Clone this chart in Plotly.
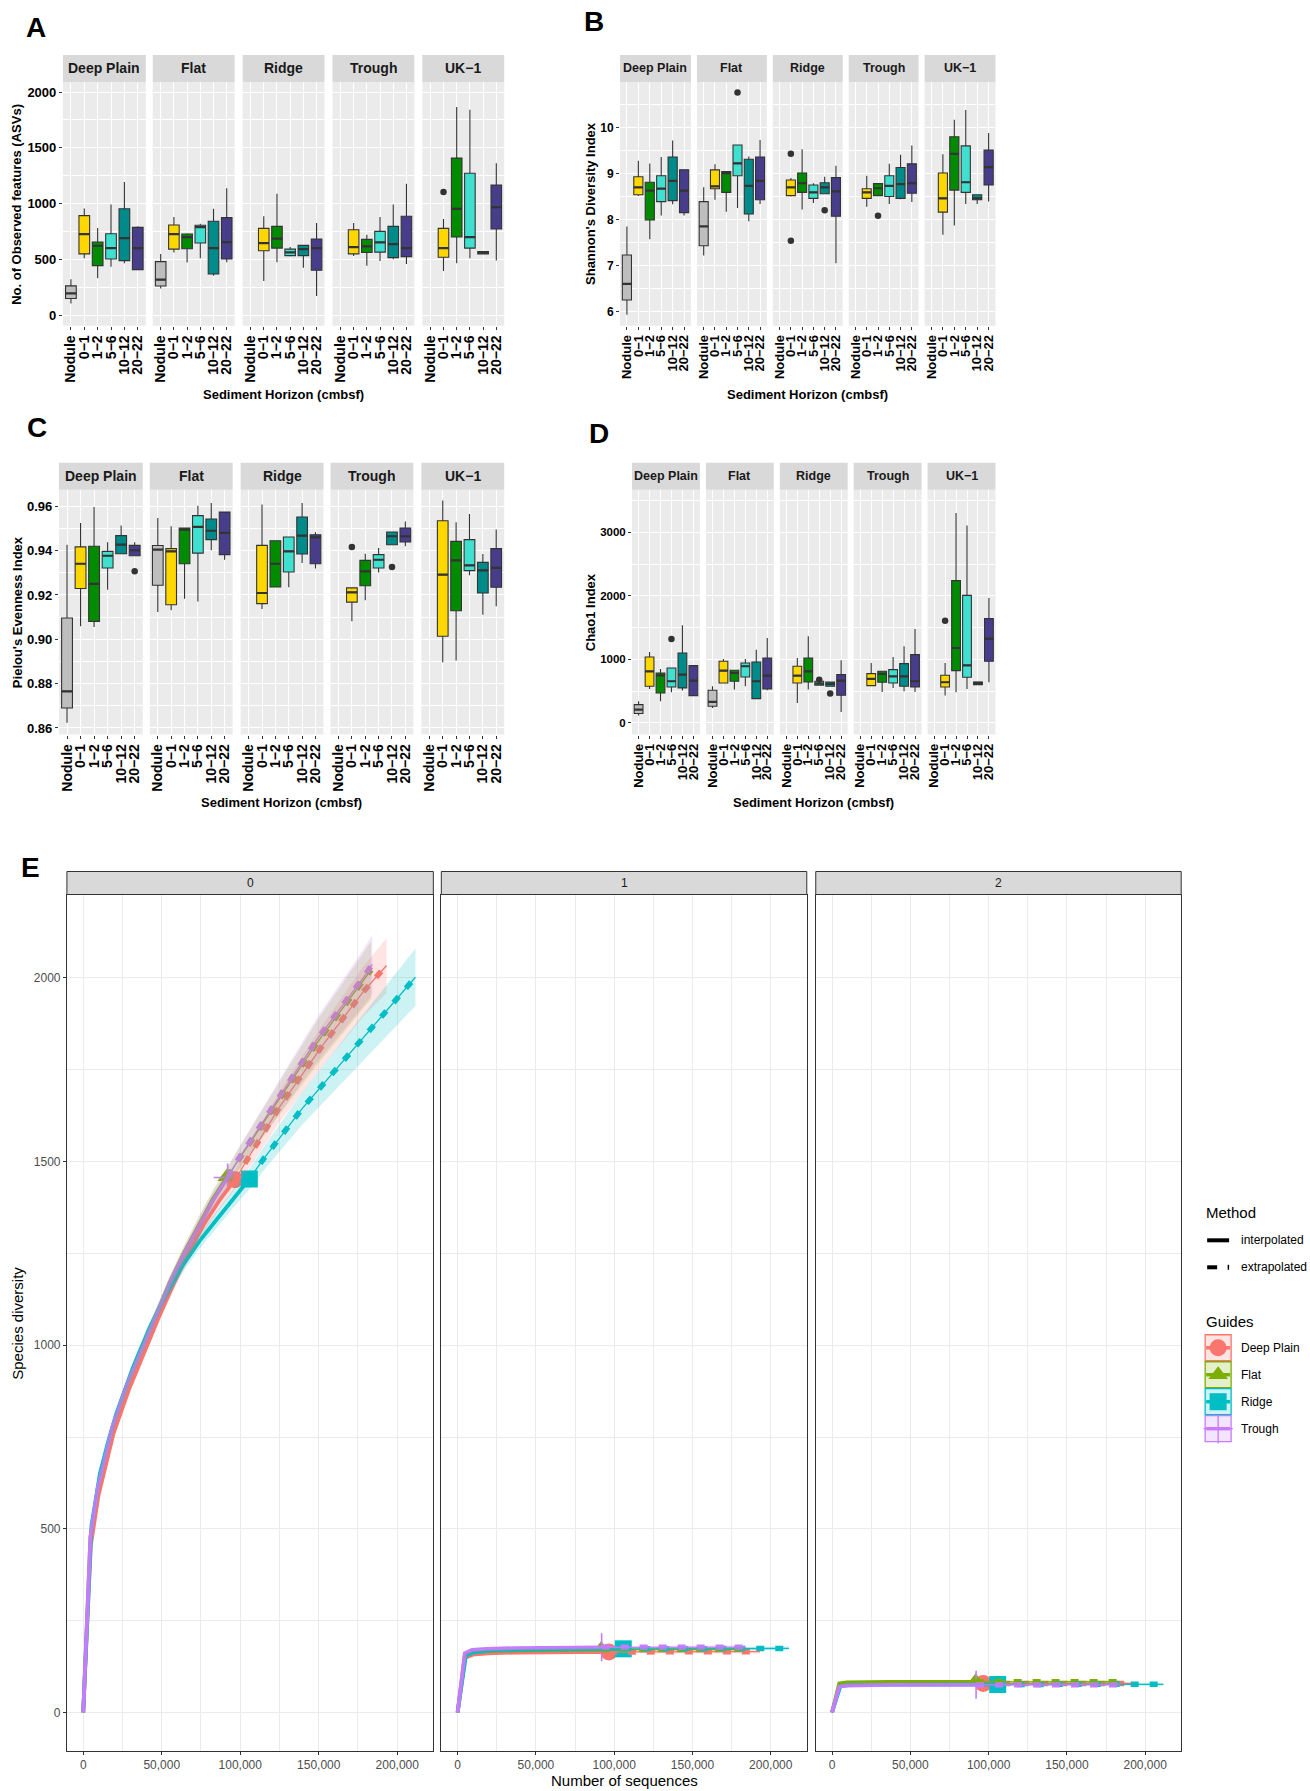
import plotly.graph_objects as go

W, H = 1310, 1791
FONT = "Liberation Sans, Arial, Helvetica, sans-serif"
M = "\u2212"

# ---------------- data: boxplots (A-D) ----------------
SITES = ["Deep Plain", "Flat", "Ridge", "Trough", "UK" + M + "1"]
HORIZONS = ["Nodule", "0" + M + "1", "1" + M + "2", "5" + M + "6", "10" + M + "12", "20" + M + "22"]
BOX_COLORS = ["#BEBEBE", "#FFD700", "#008B00", "#40E0D0", "#008B8B", "#483D8B"]

# Observed features (ASVs)
A_lo = [[105, 511, 331, 436, 466, 405], [240, 563, 472, 511, 355, 475], [None, 307, 475, 526, 427, 174], [None, 532, 445, 487, 502, 460], [None, 397, 466, 511, 550, 490]]
A_q1 = [[150, 550, 445, 505, 490, 409], [262, 593, 596, 647, 370, 505], [None, 578, 602, 535, 535, 403], [None, 550, 563, 566, 517, 526], [None, 520, 701, 602, 550, 773]]
A_med = [[196, 728, 623, 602, 692, 602], [320, 728, 701, 790, 602, 656], [None, 647, 686, 563, 593, 602], [None, 611, 617, 653, 638, 602], [None, 602, 954, 701, 563, 968]]
A_q3 = [[264, 893, 656, 731, 954, 788], [481, 809, 728, 806, 842, 875], [None, 779, 797, 593, 626, 683], [None, 767, 680, 752, 797, 887], [None, 779, 1408, 1272, 571, 1167]]
A_hi = [[322, 957, 782, 993, 1194, 797], [550, 881, 735, 821, 954, 1137], [None, 887, 1089, 611, 626, 827], [None, 827, 722, 881, 993, 1179], [None, 863, 1865, 1841, 571, 1363]]
A_out = [(4, 1, 1104)]

# Shannon
B_lo = [[5.93, 8.51, 7.57, 8.09, 8.33, 8.09], [7.22, 8.43, 8.17, 8.25, 7.96, 8.34], [None, 8.50, 8.22, 8.36, 8.56, 7.05], [None, 8.28, 8.52, 8.34, 8.44, 8.38], [None, 7.67, 7.87, 8.34, 8.34, 8.39]]
B_q1 = [[6.25, 8.54, 7.99, 8.39, 8.41, 8.15], [7.43, 8.67, 8.59, 8.95, 8.12, 8.43], [None, 8.52, 8.59, 8.46, 8.56, 8.07], [None, 8.46, 8.52, 8.50, 8.46, 8.57], [None, 8.16, 8.64, 8.59, 8.43, 8.75]]
B_med = [[6.60, 8.70, 8.63, 8.67, 8.84, 8.63], [7.85, 8.72, 9.01, 9.22, 8.73, 8.84], [None, 8.70, 8.79, 8.59, 8.70, 8.61], [None, 8.59, 8.68, 8.73, 8.77, 8.79], [None, 8.46, 9.43, 8.81, 8.46, 9.14]]
B_q3 = [[7.23, 8.93, 8.81, 8.95, 9.36, 9.08], [8.39, 9.08, 9.04, 9.62, 9.31, 9.36], [None, 8.86, 9.01, 8.75, 8.80, 8.91], [None, 8.67, 8.78, 8.95, 9.13, 9.21], [None, 9.01, 9.80, 9.60, 8.54, 9.51]]
B_hi = [[7.85, 9.28, 9.22, 9.36, 9.72, 9.08], [8.70, 9.20, 9.04, 9.62, 9.37, 9.73], [None, 8.90, 9.53, 8.79, 8.93, 9.17], [None, 8.95, 8.78, 9.21, 9.41, 9.61], [None, 9.42, 10.17, 10.38, 8.54, 9.88]]
B_out = [(1, 3, 10.76), (2, 1, 9.43), (2, 1, 7.54), (2, 4, 8.20), (3, 2, 8.08)]

# Pielou
C_lo = [[0.8623, 0.9059, 0.9056, 0.9224, 0.9386, 0.9377], [0.9123, 0.9131, 0.9183, 0.9171, 0.9402, 0.9359], [None, 0.9137, 0.9236, 0.9235, 0.9344, 0.9319], [None, 0.9081, 0.9176, 0.9302, 0.9427, 0.9420], [None, 0.8896, 0.8904, 0.9289, 0.9111, 0.9149]]
C_q1 = [[0.8690, 0.9229, 0.9081, 0.9322, 0.9386, 0.9377], [0.9244, 0.9156, 0.9341, 0.9389, 0.9450, 0.9382], [None, 0.9161, 0.9236, 0.9304, 0.9385, 0.9341], [None, 0.9168, 0.9242, 0.9322, 0.9427, 0.9439], [None, 0.9014, 0.9129, 0.9310, 0.9209, 0.9235]]
C_med = [[0.8765, 0.9341, 0.9250, 0.9377, 0.9427, 0.9402], [0.9405, 0.9397, 0.9495, 0.9507, 0.9490, 0.9480], [None, 0.9209, 0.9341, 0.9397, 0.9468, 0.9460], [None, 0.9212, 0.9307, 0.9359, 0.9465, 0.9465], [None, 0.9292, 0.9356, 0.9334, 0.9311, 0.9322]]
C_q3 = [[0.9096, 0.9417, 0.9420, 0.9397, 0.9468, 0.9424], [0.9423, 0.9409, 0.9502, 0.9558, 0.9543, 0.9574], [None, 0.9424, 0.9445, 0.9462, 0.9552, 0.9472], [None, 0.9232, 0.9356, 0.9382, 0.9484, 0.9502], [None, 0.9535, 0.9442, 0.9450, 0.9347, 0.9409]]
C_hi = [[0.9427, 0.9525, 0.9597, 0.9438, 0.9514, 0.9438], [0.9547, 0.9510, 0.9502, 0.9603, 0.9615, 0.9576], [None, 0.9608, 0.9445, 0.9462, 0.9615, 0.9483], [None, 0.9232, 0.9386, 0.9412, 0.9484, 0.9532], [None, 0.9626, 0.9528, 0.9565, 0.9385, 0.9495]]
C_out = [(0, 5, 0.9307), (3, 1, 0.9417), (3, 4, 0.9326)]

# Chao1
D_lo = [[115, 535, 341, 483, 509, 430], [236, 619, 525, 577, 383, 514], [None, 315, 525, 593, 577, 173], [None, 577, 488, 551, 498, 488], [None, 430, 483, 535, 603, 640]]
D_q1 = [[147, 577, 472, 566, 551, 430], [262, 629, 656, 724, 383, 535], [None, 629, 645, 593, 577, 435], [None, 587, 640, 629, 577, 566], [None, 566, 823, 719, 603, 970]]
D_med = [[210, 813, 750, 656, 760, 666], [330, 823, 787, 892, 656, 745], [None, 745, 813, 619, 614, 666], [None, 692, 771, 734, 734, 656], [None, 640, 1180, 907, 629, 1322]]
D_q3 = [[288, 1039, 787, 865, 1101, 902], [514, 970, 829, 944, 960, 1023], [None, 892, 1023, 656, 645, 760], [None, 776, 813, 839, 934, 1075], [None, 750, 2240, 2009, 645, 1642]]
D_hi = [[341, 1117, 850, 865, 1537, 902], [577, 1007, 829, 1007, 1154, 1337], [None, 1023, 1364, 656, 645, 986], [None, 944, 813, 1039, 1206, 1479], [None, 944, 3304, 3110, 645, 1967]]
D_out = [(0, 3, 1322), (2, 3, 680), (2, 4, 462), (4, 1, 1610)]

# ---------------- data: rarefaction (E) ----------------
E_GROUPS = ["Deep Plain", "Flat", "Ridge", "Trough"]
E_COLORS = ["#F8766D", "#7CAE00", "#00BFC4", "#C77CFF"]
E_SYMBOLS = ["circle", "triangle-up", "square", "cross-thin"]
E_ORDERS = ["0", "1", "2"]
E_XTICKS = [0, 50000, 100000, 150000, 200000]
E_XTICKTEXT = ["0", "50,000", "100,000", "150,000", "200,000"]
E_YTICKS = [0, 500, 1000, 1500, 2000]

Q0_INT_X = [[1, 4830, 9660, 14490, 19320, 28980, 38640, 48300, 57960, 67620, 77280, 86940, 96600],
            [1, 4585, 9170, 13755, 18340, 27510, 36680, 45850, 55020, 64190, 73360, 82530, 91700],
            [1, 5290, 10580, 15870, 21160, 31740, 42320, 52900, 63480, 74060, 84640, 95220, 105800],
            [1, 4600, 9200, 13800, 18400, 27600, 36800, 46000, 55200, 64400, 73600, 82800, 92000]]
Q0_INT_Y = [[1, 455, 590, 680, 760, 878, 978, 1078, 1170, 1256, 1332, 1395, 1450],
            [1, 478, 608, 693, 773, 888, 984, 1079, 1170, 1251, 1327, 1398, 1458],
            [1, 510, 650, 738, 815, 940, 1048, 1140, 1218, 1283, 1340, 1397, 1452],
            [1, 480, 610, 695, 775, 890, 985, 1080, 1170, 1250, 1325, 1395, 1456]]
Q0_INT_HW = [[0, 6, 8, 9, 10, 12, 14, 16, 18, 20, 22, 24, 26],
             [0, 6, 8, 9, 10, 12, 14, 16, 18, 20, 22, 24, 26],
             [0, 7, 9, 10, 11, 13, 15, 17, 19, 21, 23, 25, 28],
             [0, 6, 8, 9, 10, 12, 14, 16, 18, 20, 22, 24, 26]]
Q0_EXT_X = [[96600, 125500, 152000, 178400, 193200],
            [91700, 120000, 148800, 178000, 183400],
            [105800, 114900, 139300, 162500, 188000, 211600],
            [92000, 99000, 120200, 148800, 178400, 184100]]
Q0_EXT_Y = [[1450, 1651, 1813, 1962, 2033],
            [1458, 1640, 1822, 1990, 2021],
            [1452, 1507, 1643, 1758, 1885, 2001],
            [1456, 1507, 1645, 1831, 2000, 2036]]
Q0_EXT_HW = [[26, 42, 56, 68, 75],
             [26, 42, 60, 75, 78],
             [28, 32, 44, 56, 68, 78],
             [26, 30, 42, 60, 77, 80]]

Q1_INT_X = [[1, 4830, 9660, 19320, 38640, 67620, 96600],
            [1, 4585, 9170, 18340, 36680, 64190, 91700],
            [1, 5290, 10580, 21160, 42320, 74060, 105800],
            [1, 4600, 9200, 18400, 36800, 64400, 92000]]
Q1_INT_Y = [[1, 150, 158, 162, 164, 165, 165.5],
            [1, 158, 165, 168, 170, 171, 172],
            [1, 155, 164, 169, 171, 173, 174],
            [1, 162, 171, 174, 176, 177, 178]]
Q1_INT_HW = [[0, 3, 3, 3, 3, 3, 3], [0, 3, 3, 3, 3, 3, 3], [0, 3, 3, 3, 3, 3, 3], [0, 3, 3, 3, 3, 3, 3]]
Q1_EXT_X = [[96600, 144900, 193200], [91700, 137550, 183400], [105800, 158700, 211600], [92000, 138000, 184000]]
Q1_EXT_Y = [[165.5, 166, 166.2], [172, 172.4, 172.6], [174, 174.6, 175], [178, 178.4, 178.6]]
Q1_EXT_HW = [[3, 4, 5], [3, 4, 5], [3, 4, 5], [3, 4, 5]]

Q2_INT_X = [[1, 4830, 9660, 19320, 38640, 67620, 96600],
            [1, 4585, 9170, 18340, 36680, 64190, 91700],
            [1, 5290, 10580, 21160, 42320, 74060, 105800],
            [1, 4600, 9200, 18400, 36800, 64400, 92000]]
Q2_INT_Y = [[1, 74, 77, 78.5, 79, 79.3, 79.5],
            [1, 80, 82.5, 83.5, 84, 84, 84.2],
            [1, 72, 75, 76.3, 76.8, 77, 77.2],
            [1, 71, 74, 75.2, 75.7, 76, 76.2]]
Q2_INT_HW = [[0, 2, 2, 2, 2, 2, 2], [0, 2, 2, 2, 2, 2, 2], [0, 2, 2, 2, 2, 2, 2], [0, 2, 2, 2, 2, 2, 2]]
Q2_EXT_X = [[96600, 144900, 193200], [91700, 137550, 183400], [105800, 158700, 211600], [92000, 138000, 184000]]
Q2_EXT_Y = [[79.5, 79.7, 79.8], [84.2, 84.3, 84.4], [77.2, 77.4, 77.5], [76.2, 76.3, 76.4]]
Q2_EXT_HW = [[2, 3, 4], [2, 3, 4], [2, 3, 4], [2, 3, 4]]

# ---------------- helpers ----------------
def rgba(hexc, a):
    h = hexc.lstrip("#")
    return "rgba(%d,%d,%d,%s)" % (int(h[0:2], 16), int(h[2:4], 16), int(h[4:6], 16), a)

def PX(x):
    return x / W

def PY(y):
    return 1 - y / H

fig = go.Figure()
layout = dict(width=W, height=H, margin=dict(l=0, r=0, t=0, b=0, pad=0),
              paper_bgcolor="white", plot_bgcolor="rgba(0,0,0,0)", showlegend=False,
              font=dict(family=FONT, color="#1A1A1A"))
shapes, annots = [], []
counter = [0]

def new_axes(x0, x1, y0, y1, xa, ya):
    counter[0] += 1
    n = counter[0]
    key = "" if n == 1 else str(n)
    xa = dict(xa)
    ya = dict(ya)
    xa.update(domain=[x0 / W, x1 / W], anchor="y" + key)
    ya.update(domain=[1 - y1 / H, 1 - y0 / H], anchor="x" + key)
    layout["xaxis" + key] = xa
    layout["yaxis" + key] = ya
    return "x" + key, "y" + key

def text(x, y, s, size, bold=False, color="#1A1A1A", angle=0, xanchor="center", yanchor="middle"):
    annots.append(dict(x=PX(x), y=PY(y), xref="paper", yref="paper", text=s, showarrow=False,
                       font=dict(family=FONT, size=size, color=color, weight="bold" if bold else "normal"),
                       textangle=angle, xanchor=xanchor, yanchor=yanchor))

# ---------------- box panels ----------------
BOX_PANELS = [
    dict(letter="A", lpos=(35, 28), facets=[(62, 145), (152, 234), (242, 324), (332, 414), (422, 504)],
         strip=(55, 82), plot=(82, 326), yr=[-94, 2090], tick0=0, dtick=500, fmt="d",
         stats=(A_lo, A_q1, A_med, A_q3, A_hi), out=A_out,
         ytitle="No. of Observed features (ASVs)", ytx=16, xty=395, sfs=14, xfs=14, yfs=13),
    dict(letter="B", lpos=(594, 22), facets=[(620, 691), (697, 767), (773, 843), (849, 919), (925, 996)],
         strip=(55, 82), plot=(82, 326), yr=[5.69, 10.99], tick0=6, dtick=1, fmt="d",
         stats=(B_lo, B_q1, B_med, B_q3, B_hi), out=B_out,
         ytitle="Shannon's Diversity Index", ytx=591, xty=395, sfs=12.5, xfs=13, yfs=12),
    dict(letter="C", lpos=(36, 428), facets=[(58, 142), (149, 232), (240, 323), (330, 413), (421, 504)],
         strip=(463, 490), plot=(490, 735), yr=[0.857, 0.9675], tick0=0.86, dtick=0.02, fmt=".2f",
         stats=(C_lo, C_q1, C_med, C_q3, C_hi), out=C_out,
         ytitle="Pielou's Evenness Index", ytx=16, xty=803, sfs=14, xfs=14, yfs=13),
    dict(letter="D", lpos=(599, 434), facets=[(632, 700), (706, 774), (780, 848), (854, 922), (928, 996)],
         strip=(463, 490), plot=(490, 735), yr=[-184, 3672], tick0=0, dtick=1000, fmt="d",
         stats=(D_lo, D_q1, D_med, D_q3, D_hi), out=D_out,
         ytitle="Chao1 Index", ytx=590, xty=803, sfs=12.5, xfs=13, yfs=11.5),
]

BW = 0.8
for P in BOX_PANELS:
    lo, q1, med, q3, hi = P["stats"]
    for s, (fx0, fx1) in enumerate(P["facets"]):
        first = (s == 0)
        xa = dict(range=[-0.6, 5.6], tickmode="array", tickvals=list(range(len(HORIZONS))), ticktext=HORIZONS,
                  tickangle=-90, ticks="outside", ticklen=3, tickcolor="#333333", tickwidth=1,
                  tickfont=dict(family=FONT, size=P["xfs"], color="black", weight="bold"),
                  showgrid=True, gridcolor="white", gridwidth=1.1, zeroline=False, showline=False)
        ya = dict(range=P["yr"], tickmode="linear", tick0=P["tick0"], dtick=P["dtick"], tickformat=P["fmt"],
                  ticks="outside" if first else "", ticklen=3, tickcolor="#333333", showticklabels=first,
                  tickfont=dict(family=FONT, size=P["yfs"], color="black", weight="bold"),
                  showgrid=True, gridcolor="white", gridwidth=1.1, zeroline=False, showline=False,
                  minor=dict(tickmode="linear", tick0=P["tick0"], dtick=P["dtick"] / 2, showgrid=True,
                             gridcolor="white", gridwidth=0.55))
        xr, yr = new_axes(fx0, fx1, P["plot"][0], P["plot"][1], xa, ya)
        shapes.append(dict(type="rect", xref=xr + " domain", yref=yr + " domain", x0=0, x1=1, y0=0, y1=1,
                           fillcolor="#EBEBEB", line=dict(width=0), layer="below"))
        shapes.append(dict(type="rect", xref="paper", yref="paper", x0=PX(fx0), x1=PX(fx1),
                           y0=PY(P["strip"][1]), y1=PY(P["strip"][0]), fillcolor="#D9D9D9",
                           line=dict(width=0), layer="below"))
        text((fx0 + fx1) / 2, (P["strip"][0] + P["strip"][1]) / 2, SITES[s], P["sfs"], bold=True)
        mx, my = [], []
        for h in range(len(HORIZONS)):
            if lo[s][h] is None:
                continue
            fig.add_trace(go.Box(x=[h], q1=[q1[s][h]], median=[med[s][h]], q3=[q3[s][h]],
                                 lowerfence=[lo[s][h]], upperfence=[hi[s][h]], width=BW,
                                 fillcolor=BOX_COLORS[h], line=dict(color="#333333", width=1.1),
                                 boxpoints=False, whiskerwidth=0, xaxis=xr, yaxis=yr,
                                 showlegend=False, hoverinfo="skip"))
            mx += [h - BW / 2, h + BW / 2, None]
            my += [med[s][h], med[s][h], None]
        fig.add_trace(go.Scatter(x=mx, y=my, mode="lines", line=dict(color="#333333", width=2.2),
                                 xaxis=xr, yaxis=yr, showlegend=False, hoverinfo="skip"))
        ox = [o[1] for o in P["out"] if o[0] == s]
        oy = [o[2] for o in P["out"] if o[0] == s]
        if ox:
            fig.add_trace(go.Scatter(x=ox, y=oy, mode="markers", marker=dict(color="#333333", size=6.5),
                                     xaxis=xr, yaxis=yr, showlegend=False, hoverinfo="skip"))
    cx = (P["facets"][0][0] + P["facets"][-1][1]) / 2
    cy = (P["plot"][0] + P["plot"][1]) / 2
    text(P["ytx"], cy, P["ytitle"], 13, bold=True, color="black", angle=-90)
    text(cx, P["xty"], "Sediment Horizon (cmbsf)", 13, bold=True, color="black")
    text(P["lpos"][0], P["lpos"][1], P["letter"], 28, bold=True, color="black")

# ---------------- panel E ----------------
E_FACETS = [(66, 433), (441, 807), (816, 1182)]
E_STRIP = (872, 895)
E_PLOT = (895, 1752)
E_DATA = [
    (Q0_INT_X, Q0_INT_Y, Q0_INT_HW, Q0_EXT_X, Q0_EXT_Y, Q0_EXT_HW),
    (Q1_INT_X, Q1_INT_Y, Q1_INT_HW, Q1_EXT_X, Q1_EXT_Y, Q1_EXT_HW),
    (Q2_INT_X, Q2_INT_Y, Q2_INT_HW, Q2_EXT_X, Q2_EXT_Y, Q2_EXT_HW),
]
for f, (fx0, fx1) in enumerate(E_FACETS):
    first = (f == 0)
    xa = dict(range=[-10400, 223000], tickmode="array", tickvals=E_XTICKS, ticktext=E_XTICKTEXT,
              ticks="outside", ticklen=3, tickcolor="#333333", tickfont=dict(family=FONT, size=12, color="#4D4D4D"),
              showgrid=True, gridcolor="#EBEBEB", gridwidth=1.1, zeroline=False,
              showline=True, mirror=True, linecolor="#333333", linewidth=1,
              minor=dict(tickmode="linear", tick0=0, dtick=25000, showgrid=True, gridcolor="#EBEBEB", gridwidth=0.55))
    ya = dict(range=[-104, 2226], tickmode="array", tickvals=E_YTICKS, ticktext=[str(v) for v in E_YTICKS],
              ticks="outside" if first else "", ticklen=3, tickcolor="#333333", showticklabels=first,
              tickfont=dict(family=FONT, size=12, color="#4D4D4D"),
              showgrid=True, gridcolor="#EBEBEB", gridwidth=1.1, zeroline=False,
              showline=True, mirror=True, linecolor="#333333", linewidth=1,
              minor=dict(tickmode="linear", tick0=0, dtick=250, showgrid=True, gridcolor="#EBEBEB", gridwidth=0.55))
    xr, yr = new_axes(fx0, fx1, E_PLOT[0], E_PLOT[1], xa, ya)
    shapes.append(dict(type="rect", xref="paper", yref="paper", x0=PX(fx0), x1=PX(fx1),
                       y0=PY(E_STRIP[1]), y1=PY(E_STRIP[0]), fillcolor="#D9D9D9",
                       line=dict(width=1, color="#333333")))
    text((fx0 + fx1) / 2, (E_STRIP[0] + E_STRIP[1]) / 2, E_ORDERS[f], 12, color="#1A1A1A")
    IX, IY, IH, EX, EY, EH = E_DATA[f]
    # points
    for g in range(len(E_GROUPS)):
        c = E_COLORS[g]
        if E_SYMBOLS[g] == "cross-thin":
            mk = dict(symbol="cross-thin", size=20, color=c, line=dict(color=c, width=1.6))
        else:
            mk = dict(symbol=E_SYMBOLS[g], size=17, color=c, line=dict(width=0))
        fig.add_trace(go.Scatter(x=[IX[g][-1]], y=[IY[g][-1]], mode="markers", marker=mk,
                                 xaxis=xr, yaxis=yr, showlegend=False, hoverinfo="skip"))
    # lines
    for g in range(len(E_GROUPS)):
        c = E_COLORS[g]
        fig.add_trace(go.Scatter(x=IX[g], y=IY[g], mode="lines", line=dict(color=c, width=3.8),
                                 xaxis=xr, yaxis=yr, showlegend=False, hoverinfo="skip"))
        fig.add_trace(go.Scatter(x=EX[g], y=EY[g], mode="lines", line=dict(color=c, width=1.3),
                                 xaxis=xr, yaxis=yr, showlegend=False, hoverinfo="skip"))
        fig.add_trace(go.Scatter(x=EX[g], y=EY[g], mode="lines", line=dict(color=c, width=5.5, dash="8px,11px"),
                                 xaxis=xr, yaxis=yr, showlegend=False, hoverinfo="skip"))
    # ribbons
    for g in range(len(E_GROUPS)):
        c = E_COLORS[g]
        xs = IX[g] + EX[g][1:]
        ys = IY[g] + EY[g][1:]
        hw = IH[g] + EH[g][1:]
        up = [y + w for y, w in zip(ys, hw)]
        dn = [y - w for y, w in zip(ys, hw)]
        fig.add_trace(go.Scatter(x=xs + xs[::-1], y=up + dn[::-1], mode="lines", fill="toself",
                                 fillcolor=rgba(c, 0.2), line=dict(width=0), xaxis=xr, yaxis=yr,
                                 showlegend=False, hoverinfo="skip"))

text(17, (E_PLOT[0] + E_PLOT[1]) / 2, "Species diversity", 15, angle=-90, color="black")
text((E_FACETS[0][0] + E_FACETS[-1][1]) / 2, 1781, "Number of sequences", 15, color="black")
text(30, 868, "E", 28, bold=True, color="black")

# ---------------- legend (drawn in a pixel-space overlay axis) ----------------
lxa = dict(range=[0, W], visible=False, showgrid=False, zeroline=False)
lya = dict(range=[H, 0], visible=False, showgrid=False, zeroline=False)
lx, ly = new_axes(0, W, 0, H, lxa, lya)

text(1205, 1213, "Method", 15, xanchor="left", color="black")
shapes.append(dict(type="line", xref=lx, yref=ly, x0=1208, x1=1230, y0=1241, y1=1241, line=dict(color="black", width=4)))
text(1240, 1241, "interpolated", 12, xanchor="left", color="black")
shapes.append(dict(type="line", xref=lx, yref=ly, x0=1208, x1=1218, y0=1268, y1=1268, line=dict(color="black", width=4)))
shapes.append(dict(type="rect", xref=lx, yref=ly, x0=1228.5, x1=1230, y0=1265.5, y1=1270.5, fillcolor="black", line=dict(width=0)))
text(1240, 1268, "extrapolated", 12, xanchor="left", color="black")
text(1205, 1322, "Guides", 15, xanchor="left", color="black")
LEG_Y = [1348.5, 1375.5, 1402.5, 1429.5]
for g in range(len(E_GROUPS)):
    c = E_COLORS[g]
    yc = LEG_Y[g]
    shapes.append(dict(type="rect", xref=lx, yref=ly, x0=1206, x1=1232, y0=yc - 13, y1=yc + 13,
                       fillcolor=rgba(c, 0.2), line=dict(color=c, width=1.3)))
    shapes.append(dict(type="line", xref=lx, yref=ly, x0=1207, x1=1231, y0=yc, y1=yc, line=dict(color=c, width=3.5)))
    if E_SYMBOLS[g] == "cross-thin":
        mk = dict(symbol="cross-thin", size=21, color=c, line=dict(color=c, width=1.3))
    else:
        mk = dict(symbol=E_SYMBOLS[g], size=17, color=c, line=dict(width=0))
    fig.add_trace(go.Scatter(x=[1219], y=[yc], mode="markers", marker=mk, xaxis=lx, yaxis=ly,
                             showlegend=False, hoverinfo="skip"))
    text(1240, yc, E_GROUPS[g], 12, xanchor="left", color="black")

layout["shapes"] = shapes
layout["annotations"] = annots
fig.update_layout(**layout)
fig.write_html("out.html")
